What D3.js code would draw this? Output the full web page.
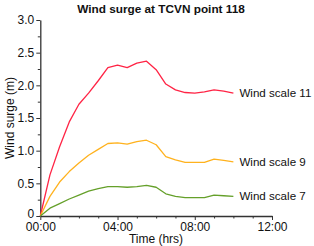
<!DOCTYPE html>
<html><head><meta charset="utf-8">
<script src="https://cdn.jsdelivr.net/npm/d3@7"></script>
<style>
html,body{margin:0;padding:0;background:#fff;}
text{font-family:Arial,"Liberation Sans",sans-serif;}
</style></head>
<body><svg id="c" width="314" height="246"></svg>
<script>
const hours = [0,0.5,1,1.5,2,2.5,3,3.5,4,4.5,5,5.5,6,6.5,7,7.5,8,8.5,9,9.5,10];
const scale11 = [0,0.63,1.06,1.44,1.71,1.88,2.07,2.27,2.31,2.27,2.34,2.37,2.24,2.02,1.93,1.89,1.88,1.90,1.93,1.91,1.88];
const scale9  = [0,0.30,0.52,0.68,0.81,0.93,1.02,1.11,1.12,1.10,1.14,1.16,1.09,0.91,0.86,0.82,0.82,0.82,0.87,0.85,0.83];
const scale7  = [0,0.12,0.19,0.26,0.32,0.38,0.42,0.45,0.45,0.44,0.45,0.47,0.44,0.34,0.30,0.28,0.28,0.28,0.32,0.31,0.30];
const seriesNames = ["Wind scale 11","Wind scale 9","Wind scale 7"];
const seriesColors = ["#ff2445","#ffb21e","#65a02a"];
const xTickLabels = ["00:00","04:00","08:00","12:00"];
const yTickLabels = ["0","0.5","1.0","1.5","2.0","2.5","3.0"];
const title = "Wind surge at TCVN point 118";
const xTitle = "Time (hrs)";
const yTitle = "Wind surge (m)";

const svg = d3.select("#c");
const x = d3.scaleLinear().domain([0,12]).range([40.3,272]);
const y = d3.scaleLinear().domain([0,3]).range([216,20]);
const axisColor = "#333";

// x axis
svg.append("g").attr("transform",`translate(0,${y(0)})`)
  .call(d3.axisBottom(x).tickValues([0,4,8,12]).tickSize(4).tickSizeOuter(0).tickPadding(2)
    .tickFormat((d,i)=>xTickLabels[i]));
svg.append("g").attr("transform",`translate(0,${y(0)})`)
  .call(d3.axisBottom(x).tickValues(d3.range(1,12).filter(d=>d%4!==0)).tickSize(2.5).tickFormat(""))
  .call(g=>g.select(".domain").remove());
// y axis
const yG = svg.append("g").attr("transform",`translate(${x(0)},0)`)
  .call(d3.axisLeft(y).tickValues([0,0.5,1,1.5,2,2.5,3]).tickSize(4).tickSizeOuter(0).tickPadding(2)
    .tickFormat((d,i)=>yTickLabels[i]));
svg.append("g").attr("transform",`translate(${x(0)},0)`)
  .call(d3.axisLeft(y).tickValues([0.25,0.75,1.25,1.75,2.25,2.75]).tickSize(2.5).tickFormat(""))
  .call(g=>g.select(".domain").remove());
svg.selectAll(".domain").attr("stroke",axisColor).attr("stroke-width",1.3);
svg.selectAll(".tick line").attr("stroke",axisColor).attr("stroke-width",1);
svg.selectAll(".tick text").attr("font-size","12px").attr("fill","#111")
  .attr("font-family","Arial, 'Liberation Sans', sans-serif");
// nudge the "0" label up slightly, as in the reference
yG.selectAll(".tick text").filter(d=>d===0).attr("dy","0.1em");

// lines
const allSeries = [scale11, scale9, scale7];
const line = d3.line().x((d,i)=>x(hours[i])).y(d=>y(d));
allSeries.forEach((s,k)=>{
  svg.append("path").datum(s).attr("d",line).attr("fill","none")
    .attr("stroke",seriesColors[k]).attr("stroke-width",1.3).attr("stroke-linejoin","round");
  svg.append("text").attr("x",x(hours[hours.length-1])+6).attr("y",y(s[s.length-1]))
    .attr("dy","0.35em").attr("font-size","11.6px").attr("fill","#111").text(seriesNames[k]);
});

// titles
svg.append("text").attr("x",161).attr("y",13).attr("text-anchor","middle")
  .attr("font-size","11.8px").attr("font-weight","bold").attr("fill","#111").text(title);
svg.append("text").attr("x",156).attr("y",242.5).attr("text-anchor","middle")
  .attr("font-size","12px").attr("fill","#111").text(xTitle);
svg.append("text").attr("transform","translate(14,118) rotate(-90)").attr("text-anchor","middle")
  .attr("font-size","12px").attr("fill","#111").text(yTitle);
</script></body></html>
